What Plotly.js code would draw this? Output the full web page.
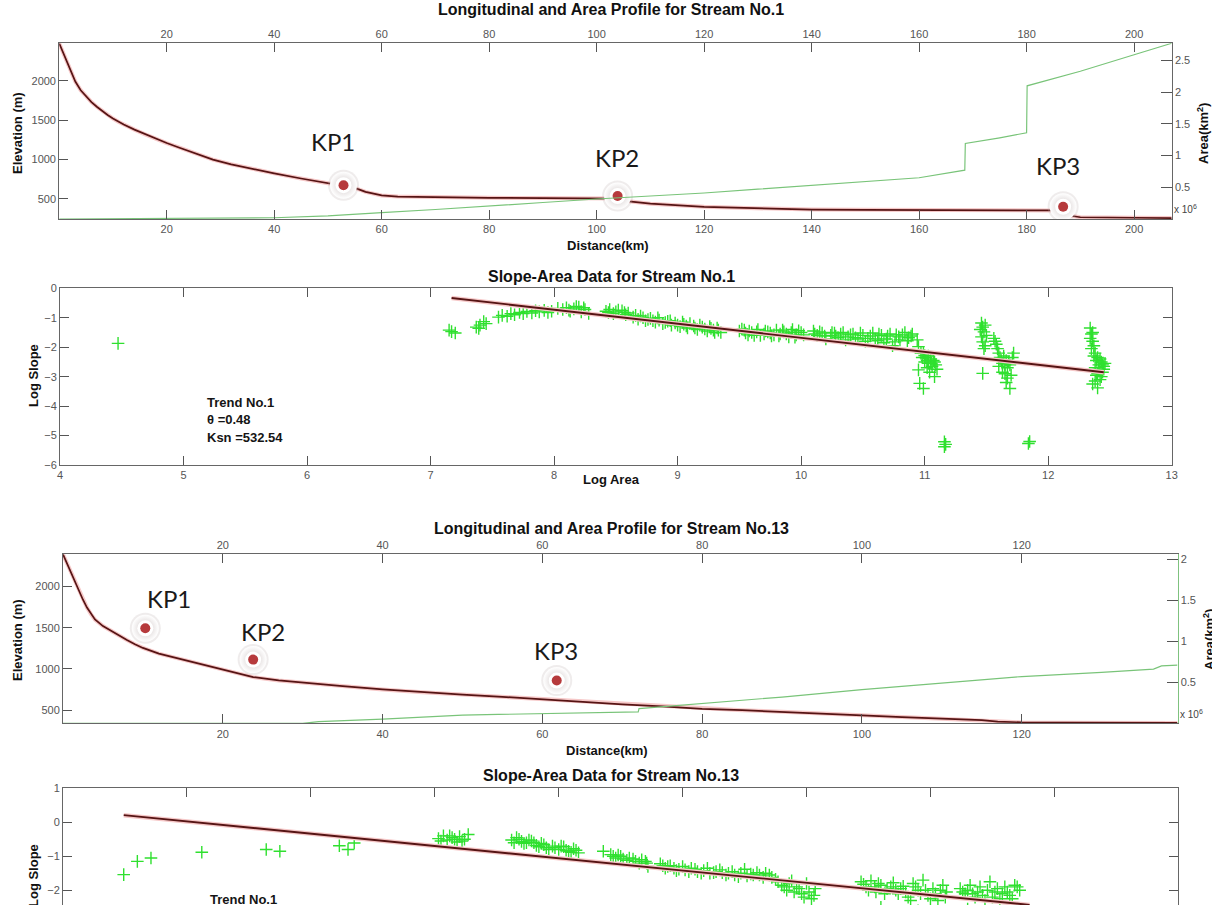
<!DOCTYPE html>
<html>
<head>
<meta charset="utf-8">
<script src="https://cdn.plot.ly/plotly-3.0.1.min.js"></script>
<style>
html,body{margin:0;padding:0;background:#fff;overflow:hidden;}
#wrap{width:1212px;height:905px;overflow:hidden;position:relative;}
#chart{width:1212px;height:1000px;}
</style>
</head>
<body>
<div id="wrap"><div id="chart"></div></div>
<script>
// ---------- Stream No.1 : longitudinal profile ----------
const s1_dist = [0,1,2,3,4,5,6,7,8,9,10,11,12,14,16,18,20,22,24,26,28.6,32,36,40,45,50,53,55,57,60,63,70,80,90,100,104,106,110,120,130,140,150,160,170,180,185,187,190,200,207];
const s1_elev = [2475,2310,2140,1990,1880,1800,1730,1670,1615,1565,1520,1480,1445,1380,1320,1262,1210,1160,1110,1060,1000,940,880,825,760,700,670,640,590,545,530,520,515,512,510,505,470,440,400,380,365,362,360,359,358,355,300,268,262,258];
const s1_area_dist = [0,20,30,40,50,55,60,70,80,90,100,110,120,130,140,150,160,168.5,168.6,175,180,180.1,190,200,207];
const s1_area_e6   = [0,0.005,0.01,0.02,0.05,0.08,0.1,0.15,0.2,0.26,0.315,0.36,0.41,0.47,0.53,0.59,0.65,0.77,1.19,1.28,1.36,2.1,2.33,2.59,2.77];
const s1_kp_names = ['KP1','KP2','KP3'];
const s1_kp_dist = [52.9,103.9,186.8];
const s1_kp_elev = [675,537,401];

// ---------- Stream No.1 : slope-area ----------
const s1_logA = [4.47,
 7.17,7.2,7.15,7.37,7.40,7.43,7.45,7.39,
 7.55,7.58,7.62,7.65,7.68,7.72,7.75,7.78,7.82,7.85,7.88,7.92,7.95,7.98,
 8.07,8.1,8.13,8.16,8.2,8.22,8.25,8.28,8.03,8.12,8.18,8.24,
 8.42,8.45,8.48,8.5,8.55,8.58,8.6,8.44,8.52,8.57,
 8.64,8.68,8.7,8.74,8.78,8.82,8.85,8.88,8.92,8.95,8.98,9.02,9.05,9.08,
 8.66,8.72,8.76,8.8,8.84,8.9,8.94,9.0,9.04,9.07,9.1,
 9.13,9.16,9.2,9.24,9.27,9.3,9.33,9.14,9.18,9.22,9.26,9.29,9.32,9.35,
 9.52,9.55,9.58,9.62,9.65,9.7,9.73,9.76,9.8,9.83,9.86,9.9,9.93,9.96,10.0,
 9.5,9.54,9.57,9.6,9.64,9.67,9.71,9.75,9.78,9.82,9.85,9.88,9.92,9.95,9.98,10.02,
 10.1,10.13,10.17,10.2,10.11,10.15,10.19,
 10.25,10.28,10.32,10.36,10.4,10.44,10.48,10.52,10.56,10.6,10.63,10.67,10.7,10.74,10.77,10.8,10.84,10.87,10.9,
 10.24,10.27,10.3,10.34,10.38,10.42,10.46,10.5,10.54,10.58,10.62,10.65,10.69,10.72,10.76,10.79,10.82,10.86,10.89,
 10.94,10.95,10.97,10.98,11.0,11.02,11.03,11.05,11.06,11.08,11.1,11.04,10.95,10.96,10.99,11.08,
 10.99,11.01,11.03,11.05,11.07,11.09,11.0,11.02,
 11.16,11.16,11.17,
 11.46,11.47,11.48,11.46,11.47,11.48,11.47,11.49,11.45,11.5,11.49,
 11.56,11.58,11.6,11.62,11.64,11.65,11.67,11.68,11.7,11.66,11.69,11.72,11.63,
 11.57,11.59,11.61,11.63,11.66,11.69,11.71,11.65,11.6,11.67,
 11.84,11.85,
 12.34,12.35,12.36,12.35,12.37,12.39,12.41,12.43,12.45,12.38,12.4,12.42,12.36,12.4,12.44,
 12.36,12.34,12.37,12.38,12.4,12.42,12.44,12.46,12.41,12.39,12.43,12.45,12.38];
const s1_logS = [-1.87,
 -1.47,-1.52,-1.42,-1.32,-1.25,-1.13,-1.2,-1.36,
 -0.98,-0.92,-0.95,-0.86,-0.9,-0.82,-0.86,-0.79,-0.84,-0.76,-0.8,-0.75,-0.82,-0.78,
 -0.72,-0.66,-0.78,-0.7,-0.64,-0.8,-0.72,-0.85,-0.68,-0.74,-0.62,-0.66,
 -0.78,-0.72,-0.86,-0.8,-0.76,-0.9,-0.84,-0.82,-0.74,-0.82,
 -0.98,-1.05,-0.94,-1.1,-1.02,-1.15,-1.08,-1.2,-1.12,-1.25,-1.18,-1.3,-1.22,-1.35,
 -0.92,-1.0,-1.06,-1.1,-1.0,-1.16,-1.1,-1.25,-1.15,-1.28,-1.2,
 -1.28,-1.4,-1.32,-1.45,-1.36,-1.5,-1.42,-1.35,-1.25,-1.38,-1.3,-1.42,-1.35,-1.5,
 -1.38,-1.52,-1.45,-1.6,-1.4,-1.55,-1.48,-1.62,-1.42,-1.55,-1.48,-1.65,-1.4,-1.58,-1.5,
 -1.45,-1.42,-1.58,-1.5,-1.48,-1.6,-1.45,-1.52,-1.58,-1.62,-1.42,-1.55,-1.5,-1.66,-1.44,-1.58,
 -1.45,-1.6,-1.52,-1.72,-1.55,-1.48,-1.62,
 -1.5,-1.62,-1.55,-1.75,-1.58,-1.68,-1.52,-1.8,-1.62,-1.72,-1.55,-1.85,-1.62,-1.95,-1.58,-1.75,-1.5,-1.68,-1.55,
 -1.6,-1.52,-1.68,-1.5,-1.65,-1.55,-1.72,-1.6,-1.7,-1.52,-1.78,-1.6,-1.72,-1.55,-1.82,-1.65,-1.58,-1.78,-1.62,
 -1.75,-1.98,-2.2,-2.35,-2.28,-2.45,-2.55,-2.4,-2.65,-2.5,-2.75,-2.85,-2.77,-3.23,-3.4,-3.0,
 -2.2,-2.35,-2.3,-2.55,-2.45,-2.6,-2.5,-2.7,
 -5.21,-5.38,-5.3,
 -1.18,-1.32,-1.48,-1.65,-1.82,-2.05,-2.89,-1.25,-1.4,-1.6,-1.95,
 -1.7,-1.9,-2.2,-2.45,-2.3,-2.6,-2.7,-2.5,-2.95,-3.2,-3.4,-2.2,-2.85,
 -1.8,-2.05,-2.35,-2.55,-2.45,-2.6,-2.35,-2.9,-2.65,-3.05,
 -5.27,-5.2,
 -1.35,-1.55,-1.8,-2.05,-2.3,-2.45,-2.6,-2.5,-2.75,-2.7,-2.9,-3.1,-3.25,-3.38,-2.85,
 -1.5,-1.7,-1.95,-2.2,-2.35,-2.4,-2.6,-2.55,-2.75,-2.95,-3.0,-2.65,-3.15];
const s1_trend_logA = [7.17,12.45];
const s1_trend_logS = [-0.33,-2.85];
const s1_trend_text = ['Trend No.1','\u03b8 =0.48','Ksn =532.54'];

// ---------- Stream No.13 : longitudinal profile ----------
const s13_dist = [0,0.5,1,1.5,2,2.5,3,3.5,4,5,6,7,8,9,10,12,15,20,23.8,27,30,35,40,45,50,55,60,65,70,75,80,85,90,95,100,105,110,115,117,120,125,130,139.5];
const s13_elev = [2392,2280,2170,2060,1950,1840,1745,1665,1600,1520,1460,1400,1350,1300,1255,1185,1112,995,900,860,832,790,750,715,688,660,628,600,570,545,515,498,480,455,435,415,395,378,360,350,346,344,343];
const s13_area_dist = [0,30,32,40,50,60,72,72.1,80,90,100,110,120,130,136.5,137.5,139.5];
const s13_area_e6   = [0,0,0.02,0.05,0.1,0.12,0.14,0.18,0.24,0.32,0.41,0.49,0.57,0.62,0.66,0.7,0.71];
const s13_kp_names = ['KP1','KP2','KP3'];
const s13_kp_dist = [10.3,23.8,61.8];
const s13_kp_elev = [1493,1113,858];

// ---------- Stream No.13 : slope-area ----------
const s13_logA = [4.49,4.6,4.71,5.12,5.64,5.75,6.23,6.3,6.35,
 7.03,7.07,7.1,7.14,7.18,7.2,7.24,7.27,7.05,7.12,7.16,7.22,
 7.62,7.66,7.7,7.74,7.78,7.82,7.86,7.9,7.95,8.0,8.04,8.08,8.12,8.16,
 7.64,7.68,7.72,7.76,7.8,7.84,7.88,7.92,7.97,8.02,8.06,8.1,8.14,
 8.36,
 8.42,8.46,8.5,8.55,8.6,8.65,8.7,8.72,8.44,8.48,8.52,8.57,8.62,8.67,8.71,
 8.82,8.86,8.9,8.95,9.0,9.05,9.1,9.15,9.2,9.25,9.3,9.35,9.4,9.45,9.5,9.55,9.6,9.65,9.7,9.75,9.8,9.84,9.88,9.92,9.96,10.0,10.04,10.07,
 8.84,8.88,8.93,8.97,9.02,9.07,9.12,9.17,9.22,9.27,9.32,9.37,9.42,9.47,9.52,9.57,9.62,9.67,9.72,9.77,9.82,9.86,9.9,9.94,9.98,10.02,10.06,
 10.44,10.48,10.52,10.56,10.6,10.65,10.7,10.74,10.78,10.82,10.86,10.9,10.94,10.98,11.02,11.06,11.1,11.13,
 10.46,10.5,10.55,10.58,10.63,10.68,10.72,10.76,10.8,10.84,10.88,10.92,10.96,11.0,11.04,11.08,11.12,
 11.24,11.28,11.32,11.36,11.4,11.44,11.48,11.52,11.56,11.6,11.64,11.68,11.72,
 11.26,11.3,11.34,11.38,11.42,11.46,11.5,11.54,11.58,11.62,11.66,11.7,
 10.6,10.9,11.3,11.5,11.7];
const s13_logS = [-1.54,-1.15,-1.05,-0.88,-0.8,-0.85,-0.69,-0.8,-0.61,
 -0.48,-0.4,-0.52,-0.45,-0.58,-0.42,-0.5,-0.36,-0.55,-0.4,-0.5,-0.55,
 -0.52,-0.45,-0.56,-0.6,-0.55,-0.68,-0.62,-0.75,-0.7,-0.8,-0.72,-0.85,-0.78,-0.9,
 -0.6,-0.5,-0.62,-0.52,-0.6,-0.72,-0.66,-0.8,-0.75,-0.7,-0.82,-0.88,-0.82,
 -0.85,
 -0.95,-1.05,-1.0,-1.12,-1.08,-1.2,-1.15,-1.3,-1.0,-0.96,-1.08,-1.05,-1.15,-1.1,-1.2,
 -1.22,-1.35,-1.28,-1.42,-1.3,-1.45,-1.38,-1.5,-1.35,-1.48,-1.4,-1.55,-1.45,-1.6,-1.38,-1.52,-1.48,-1.62,-1.55,-1.68,-1.85,-2.0,-1.72,-1.9,-2.1,-1.8,-2.25,-1.95,
 -1.28,-1.3,-1.35,-1.38,-1.4,-1.35,-1.45,-1.42,-1.5,-1.45,-1.48,-1.5,-1.55,-1.5,-1.58,-1.55,-1.55,-1.5,-1.62,-1.75,-1.9,-1.8,-2.05,-1.95,-2.2,-2.05,-2.15,
 -1.75,-1.9,-1.72,-2.05,-1.85,-1.95,-1.78,-2.1,-1.88,-2.2,-1.8,-2.0,-1.7,-2.15,-1.95,-2.3,-1.85,-2.05,
 -1.82,-2.0,-1.9,-1.8,-2.1,-1.9,-2.0,-1.95,-2.05,-2.3,-1.9,-2.1,-2.0,-2.25,-2.1,-2.0,-2.2,
 -1.95,-2.1,-1.85,-2.2,-1.9,-2.3,-1.75,-2.05,-2.25,-1.9,-2.15,-1.85,-2.0,
 -2.05,-2.0,-2.1,-2.05,-2.15,-2.0,-2.2,-1.95,-2.1,-2.05,-2.25,-1.9,
 -2.5,-2.6,-2.55,-2.7,-2.6];
const s13_trend_logA = [4.49,11.8];
const s13_trend_logS = [0.21,-2.43];
const s13_trend_text = ['Trend No.1'];

// ---------- axis ticks ----------
const s1_dist_ticks = [20,40,60,80,100,120,140,160,180,200];
const s13_dist_ticks = [20,40,60,80,100,120];
const elev_ticks = [500,1000,1500,2000];
const s1_area_ticks = [0.5,1,1.5,2,2.5];
const s13_area_ticks = [0.5,1,1.5,2];
const logA_ticks = [4,5,6,7,8,9,10,11,12,13];
const s1_logS_ticks = [-6,-5,-4,-3,-2,-1,0];
const s13_logS_ticks = [-4,-3,-2,-1,0,1];

// ---------- layout helpers ----------
const W = 1212, H = 1000;
const fx = p => p / W;
const fy = p => 1 - p / H;
const FONT = 'Liberation Sans, Arial, sans-serif';
const TICKFONT = {family: FONT, size: 11, color: '#555'};
const RED_HALO = '#f6c8c8', RED_CORE = '#561414', GREEN_LINE = '#79c479', GREEN_PT = '#2fe02f';

function axisBase(extra) {
  return Object.assign({
    showgrid: false, zeroline: false, showline: true, linecolor: '#666', linewidth: 1,
    ticks: 'inside', ticklen: 9, tickcolor: '#555', tickwidth: 1,
    tickfont: TICKFONT, fixedrange: true
  }, extra);
}

const traces = [];
function profile(xa, ya, ya2, dist, elev, adist, area, kpd, kpe) {
  traces.push({x: adist, y: area, xaxis: xa, yaxis: ya2, mode: 'lines', line: {color: GREEN_LINE, width: 1.2}, hoverinfo: 'skip'});
  traces.push({x: dist, y: elev, xaxis: xa, yaxis: ya, mode: 'lines', line: {color: RED_HALO, width: 4}, hoverinfo: 'skip'});
  traces.push({x: dist, y: elev, xaxis: xa, yaxis: ya, mode: 'lines', line: {color: RED_CORE, width: 1.7}, hoverinfo: 'skip'});
  traces.push({x: kpd, y: kpe, xaxis: xa, yaxis: ya, mode: 'markers', marker: {size: 31, color: 'rgba(190,180,180,0.25)'}, hoverinfo: 'skip'});
  traces.push({x: kpd, y: kpe, xaxis: xa, yaxis: ya, mode: 'markers', marker: {size: 27, color: '#ffffff', gradient: {type: 'radial', color: '#cfc6c6'}, line: {width: 0}}, hoverinfo: 'skip'});
  traces.push({x: kpd, y: kpe, xaxis: xa, yaxis: ya, mode: 'markers', marker: {size: 16, color: '#ffffff', line: {width: 0}}, hoverinfo: 'skip'});
  traces.push({x: kpd, y: kpe, xaxis: xa, yaxis: ya, mode: 'markers', marker: {size: 10, color: '#b63a3c'}, hoverinfo: 'skip'});
}
function slopeArea(xa, ya, la, ls, tla, tls) {
  traces.push({x: la, y: ls, xaxis: xa, yaxis: ya, mode: 'markers', marker: {symbol: 'cross-thin', size: 9, line: {color: GREEN_PT, width: 1.4}, color: GREEN_PT}, hoverinfo: 'skip'});
  traces.push({x: tla, y: tls, xaxis: xa, yaxis: ya, mode: 'lines', line: {color: RED_HALO, width: 4.5}, hoverinfo: 'skip'});
  traces.push({x: tla, y: tls, xaxis: xa, yaxis: ya, mode: 'lines', line: {color: RED_CORE, width: 1.9}, hoverinfo: 'skip'});
}

profile('x', 'y', 'y2', s1_dist, s1_elev, s1_area_dist, s1_area_e6, s1_kp_dist, s1_kp_elev);
traces.push({x: [null], y: [null], xaxis: 'x2', yaxis: 'y', mode: 'lines', hoverinfo: 'skip'});
slopeArea('x3', 'y3', s1_logA, s1_logS, s1_trend_logA, s1_trend_logS);
profile('x4', 'y4', 'y5', s13_dist, s13_elev, s13_area_dist, s13_area_e6, s13_kp_dist, s13_kp_elev);
traces.push({x: [null], y: [null], xaxis: 'x5', yaxis: 'y4', mode: 'lines', hoverinfo: 'skip'});
slopeArea('x6', 'y6', s13_logA, s13_logS, s13_trend_logA, s13_trend_logS);

const annotations = [];
function pann(text, xpx, ypx, opts) {
  annotations.push(Object.assign({text: text, xref: 'paper', yref: 'paper', x: fx(xpx), y: fy(ypx),
    showarrow: false, xanchor: 'center', yanchor: 'middle', font: {family: FONT, size: 12, color: '#111'}}, opts || {}));
}
const TITLEFONT = {family: FONT, size: 16, color: '#111'};
const LABFONT = {family: FONT, size: 13, color: '#111'};
pann('<b>Longitudinal and Area Profile for Stream No.1</b>', 611, 9, {font: TITLEFONT});
pann('<b>Slope-Area Data for Stream No.1</b>', 611, 276, {font: TITLEFONT});
pann('<b>Longitudinal and Area Profile for Stream No.13</b>', 611, 528, {font: TITLEFONT});
pann('<b>Slope-Area Data for Stream No.13</b>', 611, 775, {font: TITLEFONT});

pann('<b>Elevation (m)</b>', 17, 133, {textangle: -90, font: LABFONT});
pann('<b>Distance(km)</b>', 608, 245, {font: LABFONT});
pann('<b>Area(km<sup>2</sup>)</b>', 1203, 134, {textangle: -90, font: LABFONT});
pann('x 10<sup>6</sup>', 1172, 209, {xanchor: 'left', font: {family: FONT, size: 10, color: '#444'}});
pann('<b>Log Slope</b>', 33, 376, {textangle: -90, font: LABFONT});
pann('<b>Log Area</b>', 611, 479, {font: LABFONT});
pann('<b>Elevation (m)</b>', 17, 640, {textangle: -90, font: LABFONT});
pann('<b>Distance(km)</b>', 607, 750, {font: LABFONT});
pann('<b>Area(km<sup>2</sup>)</b>', 1209, 640, {textangle: -90, font: LABFONT});
pann('x 10<sup>6</sup>', 1178, 714, {xanchor: 'left', font: {family: FONT, size: 10, color: '#444'}});
pann('<b>Log Slope</b>', 33, 876, {textangle: -90, font: LABFONT});

const TRENDFONT = {family: FONT, size: 13, color: '#151515'};
s1_trend_text.forEach((t, i) => pann('<b>' + t + '</b>', 205, 402 + i * 17.5, {xanchor: 'left', font: TRENDFONT}));
s13_trend_text.forEach((t, i) => pann('<b>' + t + '</b>', 208, 899 + i * 17.5, {xanchor: 'left', font: TRENDFONT}));

// KP labels, placed relative to the markers
const KPFONT = {family: 'Lato, Open Sans, sans-serif', size: 24, color: '#1a1a1a'};
const s1_kp_shift = [[-11, 44], [-1, 39], [-5, 41]];
const s13_kp_shift = [[24, 30], [10, 28], [-1, 30]];
s1_kp_names.forEach((t, i) => annotations.push({text: t, xref: 'x', yref: 'y', x: s1_kp_dist[i], y: s1_kp_elev[i],
  xshift: s1_kp_shift[i][0], yshift: s1_kp_shift[i][1], showarrow: false, font: KPFONT}));
s13_kp_names.forEach((t, i) => annotations.push({text: t, xref: 'x4', yref: 'y4', x: s13_kp_dist[i], y: s13_kp_elev[i],
  xshift: s13_kp_shift[i][0], yshift: s13_kp_shift[i][1], showarrow: false, font: KPFONT}));

const layout = {
  width: W, height: H, margin: {l: 0, r: 0, t: 0, b: 0},
  paper_bgcolor: '#ffffff', plot_bgcolor: '#ffffff', showlegend: false,
  // panel 1
  xaxis: axisBase({domain: [fx(59.2), fx(1171.7)], anchor: 'y', range: [0, 207], tickvals: s1_dist_ticks}),
  xaxis2: axisBase({overlaying: 'x', side: 'top', anchor: 'y', range: [0, 207], tickvals: s1_dist_ticks}),
  yaxis: axisBase({domain: [fy(219), fy(43.3)], anchor: 'x', range: [246, 2475], tickvals: elev_ticks}),
  yaxis2: axisBase({overlaying: 'y', side: 'right', anchor: 'x', range: [0, 2.77], tickvals: s1_area_ticks, ticklen: 11}),
  // panel 2
  xaxis3: axisBase({domain: [fx(60), fx(1171.7)], anchor: 'y3', range: [4, 13], tickvals: logA_ticks, mirror: 'ticks'}),
  yaxis3: axisBase({domain: [fy(465), fy(288.3)], anchor: 'x3', range: [-6, 0], tickvals: s1_logS_ticks, mirror: 'ticks'}),
  // panel 3
  xaxis4: axisBase({domain: [fx(63), fx(1177.5)], anchor: 'y4', range: [0, 139.5], tickvals: s13_dist_ticks}),
  xaxis5: axisBase({overlaying: 'x4', side: 'top', anchor: 'y4', range: [0, 139.5], tickvals: s13_dist_ticks}),
  yaxis4: axisBase({domain: [fy(723.3), fy(554.3)], anchor: 'x4', range: [339, 2392], tickvals: elev_ticks}),
  yaxis5: axisBase({overlaying: 'y4', side: 'right', anchor: 'x4', range: [0, 2.06], tickvals: s13_area_ticks, linecolor: '#7fc27f', ticklen: 11}),
  // panel 4
  xaxis6: axisBase({domain: [fx(63), fx(1178.3)], anchor: 'y6', range: [4, 13], tickvals: logA_ticks, mirror: 'ticks'}),
  yaxis6: axisBase({domain: [fy(958.3), fy(788.3)], anchor: 'x6', range: [-4, 1], tickvals: s13_logS_ticks, mirror: 'ticks'}),
  annotations: annotations
};

Plotly.newPlot('chart', traces, layout, {staticPlot: true, displayModeBar: false});
</script>
</body>
</html>
